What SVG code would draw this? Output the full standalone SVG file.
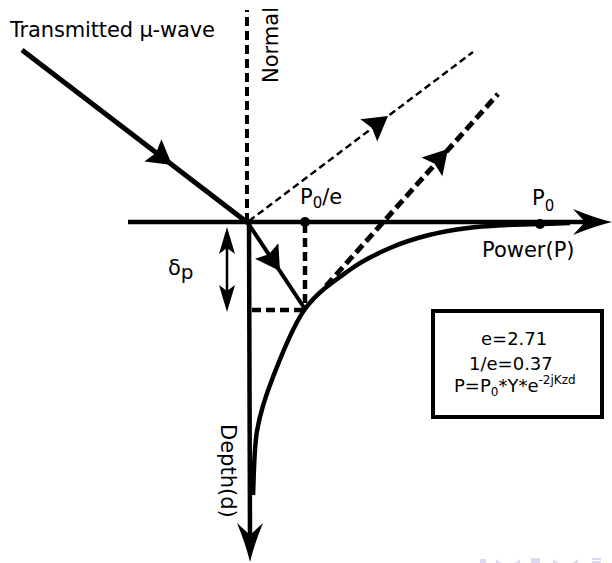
<svg xmlns="http://www.w3.org/2000/svg" width="612" height="563" viewBox="0 0 612 563">
  <style>
    .ln { fill: none; stroke: #000; stroke-linecap: butt; }
    .txt { font-family: "DejaVu Sans", Verdana, sans-serif; fill: #000; }
    .big { font-size: 21px; }
    .box { font-size: 18px; }
    .head { fill: #000; stroke: none; }
    .nav { fill: #dadaf3; stroke: none; }
  </style>
  <defs>
    <path id="bigHead" d="M0,0 Q-17,-4 -39,-13 L-27,0 L-39,13 Q-17,4 0,0 Z"/>
    <path id="midHead" d="M0,0 L-24,-14 L-20,0 L-24,14 Z"/>
    <path id="smallHead" d="M0,0 L-27,-8 L-21,0 L-27,8 Z"/>
  </defs>
  <rect width="612" height="563" fill="#fff"/>

  <g id="connectors">
    <!-- axes -->
    <line class="ln" x1="128" y1="222" x2="592" y2="222" stroke-width="4.5"/>
    <use href="#bigHead" class="head" transform="translate(612,222)"/>
    <line class="ln" x1="249" y1="220" x2="250" y2="540" stroke-width="4.5"/>
    <use href="#bigHead" class="head" transform="translate(250,562) rotate(90)"/>
    <!-- normal -->
    <line class="ln" x1="247" y1="222" x2="247" y2="10" stroke-width="4" stroke-dasharray="9 5"/>
    <!-- incident -->
    <line class="ln" x1="22" y1="50" x2="248" y2="223" stroke-width="5"/>
    <use href="#midHead" class="head" transform="translate(172,165) rotate(37.4)"/>
    <!-- reflected (thin dashed) -->
    <line class="ln" x1="249" y1="221" x2="473" y2="52" stroke-width="2.5" stroke-dasharray="7 4"/>
    <use href="#midHead" class="head" transform="translate(388,116) rotate(-37)"/>
    <!-- refracted -->
    <line class="ln" x1="248" y1="223" x2="305" y2="309" stroke-width="4"/>
    <use href="#midHead" class="head" transform="translate(280,271) rotate(56.3)"/>
    <!-- emerging thick dashed -->
    <line class="ln" x1="326" y1="286" x2="498" y2="94" stroke-width="5" stroke-dasharray="10 5"/>
    <use href="#midHead" class="head" transform="translate(448,149) rotate(-48)"/>
    <!-- P0/e projections -->
    <line class="ln" x1="305" y1="224" x2="305" y2="309" stroke-width="4.5" stroke-dasharray="9 5"/>
    <line class="ln" x1="252" y1="310" x2="305" y2="310" stroke-width="4.5" stroke-dasharray="9 5"/>
    <!-- decay curve -->
    <path class="ln" stroke-width="4.5" d="M253,495 C253.7,484.3 253.7,450.7 257,431 C260.3,411.3 265,397.3 273,377 C281,356.7 292,327 305,309 C318,291 336.8,279.2 351,269 C365.2,258.8 377,253.7 390,248 C403,242.3 416,238.3 429,235 C442,231.7 455,229.7 468,228 C481,226.3 495,225.7 507,225 C519,224.3 529.5,224.3 540,224 C550.5,223.7 565,223.2 570,223"/>
    <!-- delta p double arrow -->
    <line class="ln" x1="227" y1="245" x2="227" y2="294" stroke-width="2.5"/>
    <use href="#smallHead" class="head" transform="translate(227,227) rotate(-90)"/>
    <use href="#smallHead" class="head" transform="translate(227,312) rotate(90)"/>
  </g>

  <g id="points">
    <circle cx="305" cy="222" r="5" fill="#000"/>
    <circle cx="540" cy="224" r="5" fill="#000"/>
  </g>

  <g id="labels">
    <text class="txt big" x="10" y="37" textLength="205">Transmitted μ-wave</text>
    <text class="txt big" transform="translate(278,83) rotate(-90)">Normal</text>
    <text class="txt big" transform="translate(221,424) rotate(90)">Depth(d)</text>
    <text class="txt big" x="482" y="257">Power(P)</text>
    <text class="txt big" x="300" y="204">P<tspan font-size="15" dy="4">0</tspan><tspan dy="-4">/e</tspan></text>
    <text class="txt big" x="532" y="205">P<tspan font-size="15" dy="6">0</tspan></text>
    <text class="txt big" x="168" y="275" font-size="22">δ<tspan font-size="20" dy="4">p</tspan></text>
  </g>

  <g id="formula-box">
    <rect x="433" y="311" width="169" height="106" fill="#fff" stroke="#000" stroke-width="4"/>
    <text class="txt box" x="481" y="345">e=2.71</text>
    <text class="txt box" x="469" y="370">1/e=0.37</text>
    <text class="txt box" x="454" y="392">P=P<tspan font-size="12" dy="4">0</tspan><tspan dy="-4">*Y*e</tspan><tspan font-size="12" dy="-8">-2jKzd</tspan></text>
  </g>

  <g id="nav-symbols">
    <rect class="nav" x="480" y="559" width="6" height="4"/>
    <polygon class="nav" points="496,559 501,563 496,563"/>
    <polygon class="nav" points="520,559 515,563 520,563"/>
    <rect class="nav" x="531" y="558" width="9" height="5"/>
    <polygon class="nav" points="553,559 558,563 553,563"/>
    <polygon class="nav" points="578,559 573,563 578,563"/>
    <rect class="nav" x="592" y="558" width="9" height="2"/>
    <rect class="nav" x="592" y="561" width="9" height="2"/>
  </g>
</svg>
